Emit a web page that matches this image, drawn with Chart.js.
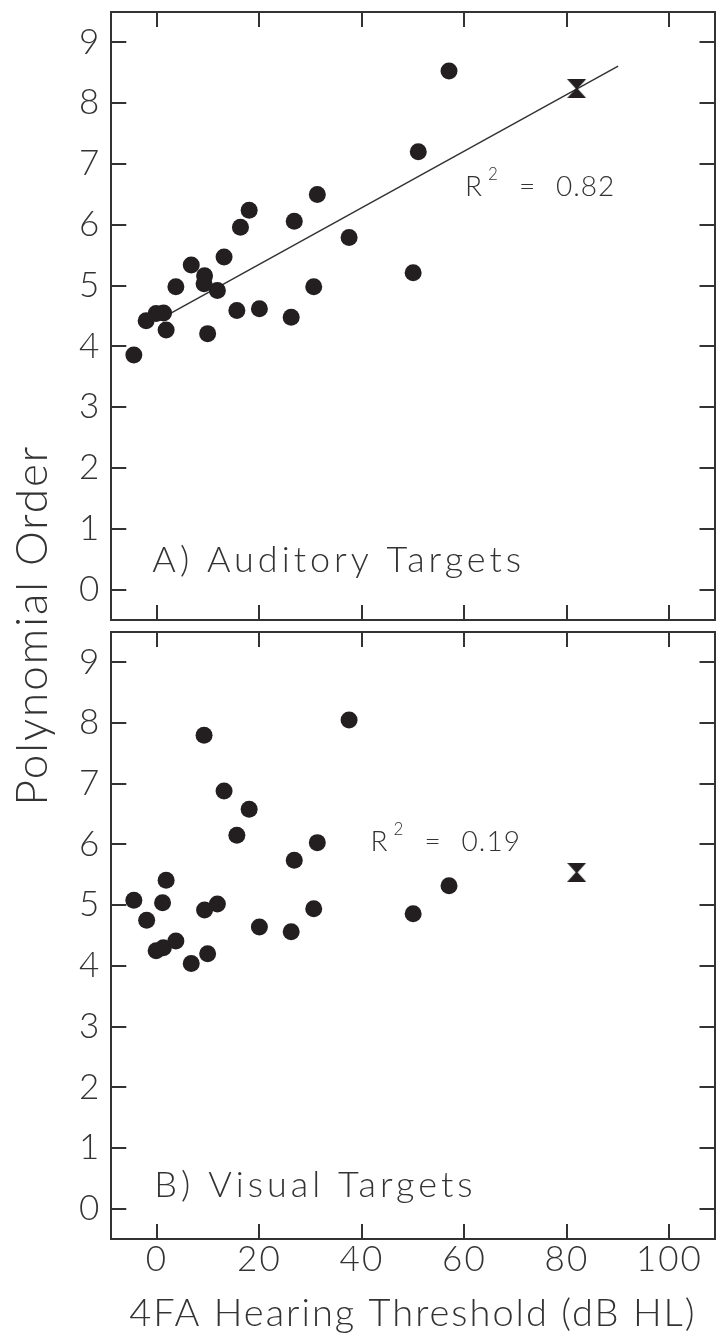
<!DOCTYPE html>
<html>
<head>
<meta charset="utf-8">
<script src="https://cdn.jsdelivr.net/npm/chart.js@4.4.0/dist/chart.umd.min.js"></script>
<style>
  html, body { margin: 0; padding: 0; background: #fff; }
  #wrap { position: relative; width: 723px; height: 1337px; }
  .box { position: absolute; left: 0; top: 0; width: 723px; }
</style>
</head>
<body>
<div id="wrap">
  <div class="box" style="height:1337px"><canvas id="visual"></canvas></div>
  <div class="box" style="height:1250px"><canvas id="auditory"></canvas></div>
</div>
<script>
const FONT = 'Lato, "DejaVu Sans", sans-serif';
const INK = '#333';
const DOT = '#231f20';

// axes
const xRange = [-8.9, 108.8];
const yRange = [-0.5, 9.5];
const xTickValues = [0, 20, 40, 60, 80, 100];
const yTickValues = [0, 1, 2, 3, 4, 5, 6, 7, 8, 9];

// A) auditory targets
const audThreshold = [-4.5, -2.1, -0.15, 1.3, 1.8, 3.7, 6.7, 9.3, 9.2, 11.8, 9.9, 13.1,
  16.3, 18.0, 15.6, 20.0, 26.8, 26.2, 31.3, 30.6, 37.5, 57.0, 51.0, 50.0];
const audOrder = [3.86, 4.42, 4.54, 4.55, 4.27, 4.98, 5.34, 5.16, 5.03, 4.92, 4.21, 5.47,
  5.96, 6.24, 4.59, 4.62, 6.06, 4.48, 6.50, 4.98, 5.79, 8.53, 7.20, 5.21];

// B) visual targets
const visThreshold = [-4.5, -2.0, 1.8, 1.1, -0.15, 1.26, 3.7, 6.7, 9.9, 9.3, 11.8, 13.1,
  18.0, 15.6, 20.0, 26.8, 26.2, 31.3, 30.6, 9.2, 37.5, 57.0, 50.0];
const visOrder = [5.08, 4.75, 5.41, 5.04, 4.25, 4.30, 4.41, 4.04, 4.20, 4.92, 5.02, 6.88,
  6.58, 6.15, 4.64, 5.74, 4.56, 6.03, 4.94, 7.80, 8.05, 5.32, 4.86];

// hourglass marker
const markThreshold = [81.9];
const audMarkOrder = [8.24];
const visMarkOrder = [5.54];

// regression line, panel A
const audFitThreshold = [0, 90];
const audFitOrder = [4.42, 8.61];

const panelLabels = ['A) Auditory Targets', 'B) Visual Targets'];
const rSquared = ['0.82', '0.19'];

function pts(xs, ys) { return xs.map((v, i) => ({x: v, y: ys[i]})); }

function hourglass(size) {
  const c = document.createElement('canvas');
  c.width = c.height = size;
  const g = c.getContext('2d');
  g.fillStyle = DOT;
  g.beginPath();
  g.moveTo(0, 0); g.lineTo(size, 0); g.lineTo(size / 2 + 1, size / 2);
  g.lineTo(size, size); g.lineTo(0, size); g.lineTo(size / 2 - 1, size / 2);
  g.closePath(); g.fill();
  return c;
}
const glass = hourglass(19);

// wide letter spacing like the plotter font, and the text inside the panels
const notes = {
  id: 'notes',
  beforeDraw(chart) { chart.ctx.letterSpacing = '2px'; },
  afterDatasetsDraw(chart, args, o) {
    const {ctx, scales: {x, y}} = chart;
    ctx.save();
    ctx.fillStyle = INK;
    ctx.textAlign = 'left';
    ctx.textBaseline = 'alphabetic';
    ctx.font = `300 36px ${FONT}`;
    ctx.letterSpacing = '4px';
    ctx.fillText(o.label, x.getPixelForValue(o.labelAt[0]), y.getPixelForValue(o.labelAt[1]));
    const px = x.getPixelForValue(o.rAt[0]);
    const py = y.getPixelForValue(o.rAt[1]);
    ctx.letterSpacing = '1px';
    ctx.font = `300 28px ${FONT}`;
    ctx.fillText('R', px, py);
    ctx.fillText('=', px + 54, py);
    ctx.fillText(o.r, px + 91, py);
    ctx.font = `300 17px ${FONT}`;
    ctx.fillText('2', px + 23, py - 16);
    ctx.restore();
  }
};

function frame(pos, extra) {
  return Object.assign({
    type: 'linear',
    position: pos,
    grid: {drawOnChartArea: false, drawTicks: true, tickLength: -15, color: INK, lineWidth: 2},
    border: {display: true, color: INK, width: 2},
    ticks: {display: false}
  }, extra);
}
const xAxis = (pos, extra) => frame(pos, Object.assign({
  min: xRange[0], max: xRange[1],
  afterBuildTicks: s => { s.ticks = xTickValues.map(v => ({value: v})); }
}, extra));
const yAxis = (pos, extra) => frame(pos, Object.assign({
  min: yRange[0], max: yRange[1],
  afterBuildTicks: s => { s.ticks = yTickValues.map(v => ({value: v})); }
}, extra));
const yLabels = {display: true, color: INK, padding: 25, font: {family: FONT, size: 35, weight: 300}};
const fixWidth = w => s => { s.width = w; s.paddingTop = 0; s.paddingBottom = 0; };
const fixHeight = h => s => { s.height = h; s.paddingLeft = 0; s.paddingRight = 0; };

function datasets(xs, ys, markY, fit) {
  const list = [
    {type: 'scatter', data: pts(xs, ys), pointRadius: 8.5, pointHoverRadius: 8.5,
      backgroundColor: DOT, borderColor: DOT, borderWidth: 0, order: 1},
    {type: 'scatter', data: pts(markThreshold, markY), pointStyle: glass, order: 0}
  ];
  if (fit) {
    list.push({type: 'line', data: pts(fit[0], fit[1]), borderColor: INK, borderWidth: 1.5,
      pointRadius: 0, fill: false, order: 2});
  }
  return list;
}

const common = {
  responsive: true,
  maintainAspectRatio: false,
  animation: false,
  events: [],
  layout: {padding: 0}
};

new Chart(document.getElementById('auditory'), {
  data: {datasets: datasets(audThreshold, audOrder, audMarkOrder, [audFitThreshold, audFitOrder])},
  options: Object.assign({}, common, {
    scales: {
      x: xAxis('bottom', {afterFit: fixHeight(630)}),
      x2: xAxis('top', {afterFit: fixHeight(12)}),
      y: yAxis('left', {ticks: yLabels, afterFit: fixWidth(52.3)}),
      y2: yAxis('right', {afterFit: fixWidth(3)})
    },
    plugins: {
      legend: {display: false},
      tooltip: {enabled: false},
      title: {display: true, position: 'left', text: 'Polynomial Order', color: INK,
        font: {family: FONT, size: 44, weight: 300}, padding: {top: 6.2, bottom: 0}},
      notes: {label: panelLabels[0], labelAt: [-0.9, 0.285], r: rSquared[0], rAt: [60.1, 6.47]}
    }
  }),
  plugins: [notes]
});

new Chart(document.getElementById('visual'), {
  data: {datasets: datasets(visThreshold, visOrder, visMarkOrder, null)},
  options: Object.assign({}, common, {
    scales: {
      x: xAxis('bottom', {
        ticks: {display: true, color: INK, padding: 15, font: {family: FONT, size: 35, weight: 300}},
        title: {display: true, text: '4FA Hearing Threshold (dB HL)', color: INK,
          font: {family: FONT, size: 38, weight: 300}, padding: {top: 0, bottom: 0}},
        afterFit: fixHeight(98)
      }),
      x2: xAxis('top', {afterFit: fixHeight(632)}),
      y: yAxis('left', {ticks: yLabels, afterFit: fixWidth(111.3)}),
      y2: yAxis('right', {afterFit: fixWidth(3)})
    },
    plugins: {
      legend: {display: false},
      tooltip: {enabled: false},
      notes: {label: panelLabels[1], labelAt: [-0.5, 0.2], r: rSquared[1], rAt: [41.7, 5.895]}
    }
  }),
  plugins: [notes]
});
</script>
</body>
</html>
